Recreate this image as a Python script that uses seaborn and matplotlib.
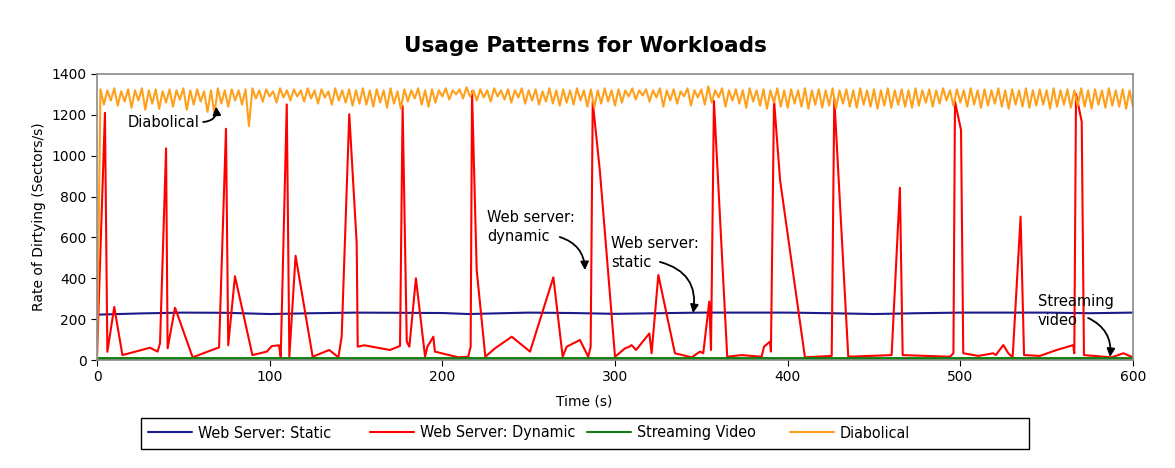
import numpy as np
import pandas as pd
import matplotlib
matplotlib.use("Agg")
import matplotlib.pyplot as plt
from matplotlib import font_manager
from matplotlib.patches import Rectangle
import seaborn as sns

# data
static_time = [0, 25, 50, 75, 100, 125, 150, 175, 200, 215, 250, 275, 300, 325, 350,
               375, 400, 425, 450, 475, 500, 525, 550, 575, 600]
static_value = [222, 228, 232, 231, 225, 229, 232, 231, 230, 225, 232, 230, 226, 229, 232,
                232, 232, 229, 225, 229, 232, 232, 232, 229, 232]

dynamic_time = [0, 4.6, 6, 10, 14.7, 30.7, 35.1, 36.5, 40, 40.9, 45.2, 55.4, 70.7, 74.7, 76,
                79.9, 90, 98.3, 101.2, 105.4, 106.4, 109.9, 111.4, 115, 124.9, 134.5, 139.8,
                141.7, 146.1, 150.4, 151, 154.8, 169.7, 175.5, 177, 179.4, 180.9, 184.7, 190,
                191.3, 194.8, 195.7, 209.3, 215, 216.4, 217.2, 219.9, 224.9, 230.5, 240.2,
                250.8, 264.3, 269.7, 272, 279.7, 284.5, 285.9, 287.1, 291.3, 300, 305.8, 308.3,
                309.6, 312.2, 319.9, 321.2, 325.1, 334.7, 344.4, 349.2, 351.1, 354.6, 355.6,
                357.3, 365, 373.3, 384.9, 386.3, 389.8, 390.3, 392.1, 395.6, 410, 425.5, 427,
                435.1, 460.2, 465, 466.6, 494, 496, 496.9, 500.4, 501.7, 510.4, 519.1, 520.5,
                524.9, 527.8, 530.3, 534.9, 536.9, 546.1, 555.8, 565.4, 566, 567, 570.3, 571.6,
                587.7, 594.4, 600]
dynamic_value = [16, 1210, 40, 260, 24, 60, 41, 82, 1036, 57, 256, 13, 62, 1132, 72,
                 410, 24, 41, 68, 72, 16, 1251, 16, 510, 16, 49, 13,
                 114, 1203, 571, 65, 72, 49, 69, 1243, 90, 65, 400, 16,
                 65, 114, 41, 13, 16, 65, 1315, 440, 16, 57, 114,
                 41, 405, 16, 65, 98, 16, 65, 1265, 920, 16, 57, 65,
                 73, 49, 130, 33, 416, 33, 13, 41, 33, 286, 49,
                 1268, 16, 24, 16, 65, 90, 41, 1273, 881, 13, 20, 1281,
                 16, 24, 843, 24, 16, 33, 1265, 1126, 33, 20, 33, 24,
                 73, 33, 13, 702, 24, 20, 49, 73, 33, 1302, 1167, 24,
                 13, 33, 13]

streaming_time = [0, 100, 200, 300, 400, 500, 600]
streaming_value = [5, 5, 5, 5, 5, 5, 5]

# diabolical sampled every 2 s
diabolical_time = np.arange(0, 601, 2)
diabolical_value = [
    0, 1325, 1250, 1320, 1270, 1330, 1245, 1315, 1265, 1325, 1235, 1320, 1270, 1330, 1225, 1320, 1255, 1325, 1230, 1315,
    1260, 1325, 1240, 1320, 1275, 1330, 1225, 1320, 1250, 1325, 1265, 1315, 1215, 1320, 1205, 1330, 1255, 1320, 1240, 1325,
    1270, 1320, 1250, 1325, 1145, 1330, 1280, 1320, 1265, 1325, 1290, 1315, 1260, 1330, 1285, 1320, 1270, 1325, 1290, 1320,
    1265, 1330, 1280, 1320, 1255, 1325, 1285, 1315, 1250, 1330, 1270, 1320, 1260, 1325, 1245, 1320, 1255, 1330, 1250, 1320,
    1240, 1325, 1260, 1320, 1235, 1330, 1255, 1315, 1230, 1325, 1265, 1320, 1280, 1330, 1250, 1320, 1240, 1325, 1260, 1320,
    1290, 1330, 1275, 1320, 1300, 1325, 1280, 1335, 1290, 1320, 1270, 1325, 1285, 1320, 1265, 1330, 1290, 1320, 1275, 1325,
    1260, 1320, 1285, 1330, 1255, 1320, 1270, 1325, 1250, 1315, 1265, 1330, 1255, 1320, 1245, 1325, 1260, 1320, 1250, 1330,
    1270, 1320, 1240, 1325, 1235, 1320, 1255, 1330, 1265, 1320, 1245, 1325, 1260, 1320, 1290, 1330, 1275, 1320, 1295, 1325,
    1265, 1320, 1285, 1330, 1240, 1320, 1270, 1325, 1255, 1315, 1290, 1330, 1245, 1320, 1285, 1325, 1250, 1340, 1260, 1320,
    1285, 1330, 1240, 1320, 1270, 1325, 1255, 1320, 1235, 1330, 1265, 1320, 1245, 1325, 1230, 1320, 1260, 1330, 1240, 1320,
    1235, 1325, 1255, 1320, 1240, 1330, 1230, 1320, 1250, 1325, 1235, 1320, 1245, 1330, 1230, 1320, 1255, 1325, 1240, 1320,
    1235, 1330, 1250, 1320, 1240, 1325, 1230, 1320, 1245, 1330, 1235, 1320, 1250, 1325, 1240, 1320, 1235, 1330, 1245, 1320,
    1260, 1325, 1240, 1320, 1255, 1330, 1270, 1320, 1245, 1325, 1260, 1320, 1240, 1330, 1250, 1320, 1235, 1325, 1245, 1320,
    1255, 1330, 1240, 1320, 1230, 1325, 1250, 1320, 1240, 1330, 1235, 1320, 1245, 1325, 1250, 1320, 1230, 1330, 1240, 1320,
    1250, 1325, 1235, 1320, 1245, 1330, 1240, 1320, 1230, 1325, 1250, 1320, 1235, 1330, 1245, 1320, 1240, 1325, 1230, 1320,
    1240,
]

labels = ["Web Server: Static", "Web Server: Dynamic", "Streaming Video", "Diabolical"]
colors = ["#1a1a8a", "#ff0000", "#0f800f", "#ffa01c"]

# annotation text and arrows (text pos, arrow start, arrow tip, curvature)
notes = ["Diabolical", "Web server:\ndynamic", "Web server:\nstatic", "Streaming\nvideo"]
note_pos = [(17.9, 1165), (225.9, 651), (297.7, 524), (545, 240)]
arrow_start = [(61.5, 1165), (268, 602), (326, 480), (574, 206)]
arrow_tip = [(69, 1240), (282.6, 440), (345.2, 230), (586.7, 15)]
arrow_rad = [0.5, -0.35, -0.45, -0.35]

sns.set_style("ticks")
plt.rcParams["font.family"] = ["DejaVu Sans"]
plt.rcParams["text.color"] = "black"
plt.rcParams["axes.labelcolor"] = "black"
plt.rcParams["xtick.color"] = "black"
plt.rcParams["ytick.color"] = "black"

fig = plt.figure(figsize=(11.75, 4.68), dpi=100)
ax = fig.add_axes([97 / 1175, 108 / 468, 1036 / 1175, 286 / 468])

series = [(static_time, static_value, 1.5),
          (dynamic_time, dynamic_value, 1.5),
          (streaming_time, streaming_value, 2.8),
          (diabolical_time, diabolical_value, 1.5)]
for (t, v, lw), lab, col in zip(series, labels, colors):
    sns.lineplot(x=t, y=v, ax=ax, color=col, linewidth=lw, label=lab)

ax.set_xlim(0, 600)
ax.set_ylim(0, 1400)
ax.set_xticks(range(0, 601, 100))
ax.set_yticks(range(0, 1401, 200))
ax.tick_params(labelsize=10, direction="out", length=4, color="black")
for s in ax.spines.values():
    s.set_color("#8a8a8a")
    s.set_linewidth(1.2)
ax.set_xlabel("Time (s)", fontsize=10)
ax.xaxis.set_label_coords(0.47, -0.12)
ax.set_ylabel("Rate of Dirtying (Sectors/s)", fontsize=10)
fig.text(0.498, 1 - 46 / 468, "Usage Patterns for Workloads", fontsize=15.5,
         fontweight="bold", ha="center", va="center")

for txt, pos, a0, a1, rad in zip(notes, note_pos, arrow_start, arrow_tip, arrow_rad):
    ax.text(pos[0], pos[1], txt, fontsize=10.5, va="center", ha="left", linespacing=1.35)
    ax.annotate("", xy=a1, xytext=a0,
                arrowprops=dict(arrowstyle="-|>", color="black", lw=1.3,
                                mutation_scale=12, shrinkA=0, shrinkB=0,
                                connectionstyle=f"arc3,rad={rad}"))

# legend: one entry per slot inside a shared box below the axes
ax.get_legend().remove()
handles, labs = ax.get_legend_handles_labels()
cond = [f.fname for f in font_manager.fontManager.ttflist
        if "DejaVuSansCondensed.ttf" in f.fname]
if cond:
    leg_font = font_manager.FontProperties(fname=cond[0], size=11.5)
else:
    leg_font = font_manager.FontProperties(family="Liberation Sans Narrow", size=13)
slot_x = [148, 370, 587, 790]
for h, lab, x in zip(handles, labs, slot_x):
    leg = fig.legend([h], [lab], loc="center left", bbox_to_anchor=(x / 1175, 1 - 433 / 468),
                     frameon=False, prop=leg_font, handlelength=2.75, handletextpad=0.35,
                     borderpad=0, borderaxespad=0)
    leg.get_lines()[0].set_linewidth(1.5)
fig.add_artist(Rectangle((141 / 1175, 1 - 449 / 468), 888 / 1175, 31 / 468,
                         transform=fig.transFigure, fill=False, edgecolor="black", lw=1))

fig.savefig("out.png", dpi=100)
